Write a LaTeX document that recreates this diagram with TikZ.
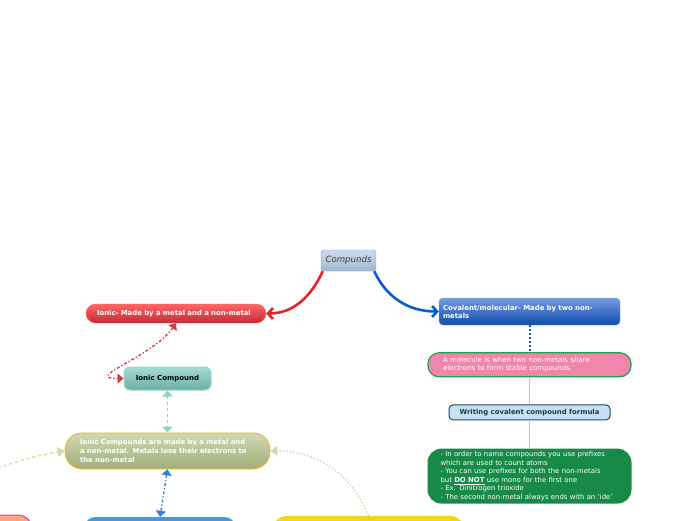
\documentclass[tikz,border=0pt]{standalone}
\usepackage{fontspec}
\setmainfont{DejaVu Sans}
\usetikzlibrary{positioning,arrows.meta}

\definecolor{compblue}{HTML}{B4CDE4}
\definecolor{compedge}{HTML}{6CA0D0}
\definecolor{ionicred}{HTML}{D8303C}
\definecolor{covblue}{HTML}{1558CC}
\definecolor{molpink}{HTML}{F285AB}
\definecolor{molgreen}{HTML}{22A050}
\definecolor{formblue}{HTML}{C8E0F2}
\definecolor{formedge}{HTML}{1E4B5A}
\definecolor{namegreen}{HTML}{178A48}
\definecolor{teal}{HTML}{7ECDC0}
\definecolor{olive}{HTML}{B2C086}
\definecolor{oliveline}{HTML}{D2DCA8}
\definecolor{linkred}{HTML}{E8202A}
\definecolor{linkblue}{HTML}{0A5AD2}
\definecolor{stemblue}{HTML}{A8C8EC}

\tikzset{
  topic/.style={rectangle, inner ysep=0pt, font=\fontsize{6.9}{8.6}\selectfont, align=left},
  main/.style={line width=2.6pt, -{Straight Barb[length=5pt,width=11pt]}},
  twoway/.style={line width=1.3pt, {Triangle[length=6pt,width=10pt]}-{Triangle[length=6pt,width=10pt]}},
}

\begin{document}
\begin{tikzpicture}[x=1pt,y=-1pt]
\useasboundingbox (0,0) rectangle (696,520);
\clip (0,0) rectangle (696,520);

\node (compounds)[topic, minimum width=55pt, minimum height=21pt, rounded corners=3pt,
  top color=compblue!70!white, bottom color=compblue!90!black, draw=compedge,
  text=black!75, font=\fontsize{8.6}{9}\selectfont\itshape, align=center] at (348.5,260.5) {Compunds};

\node (ionic)[topic, text width=158pt, inner xsep=11pt, minimum height=19pt, rounded corners=9.5pt,
  top color=red!60!white, bottom color=ionicred!90!black, draw=red!60, text=white,
  font=\fontsize{6.9}{8.6}\selectfont\bfseries] at (176,313.5) {Ionic- Made by a metal and a non-metal};

\node (covalent)[topic, text width=173pt, inner xsep=4pt, minimum height=27pt, rounded corners=4pt,
  top color=covblue!60!white, bottom color=covblue!85!black, draw=covblue!60!white, text=white,
  font=\fontsize{6.9}{8}\selectfont\bfseries] at (529.5,311.5) {Covalent/molecular- Made by two non-\\metals};

\node (molecule)[topic, below=27pt of covalent, text width=173pt, inner xsep=15pt, minimum height=24pt,
  rounded corners=11pt, fill=molpink, draw=molgreen, line width=1.2pt, text=white,
  font=\fontsize{7}{8}\selectfont] {A molecule is when two non-metals share\\electrons to form stable compounds.};

\node (formula)[topic, below=27pt of molecule, minimum width=161pt, minimum height=15pt, rounded corners=4pt,
  fill=formblue, draw=formedge, line width=1pt, text=formedge!80!black,
  font=\fontsize{6.9}{7}\selectfont\bfseries, align=center] {Writing covalent compound formula};

\node (naming)[topic, below=28pt of formula, text width=178pt, inner xsep=13pt, minimum height=55pt,
  rounded corners=14pt, fill=namegreen, text=white] {- In order to name compounds you use prefixes\\
  which are used to count atoms\\
  - You can use prefixes for both the non-metals\\
  but \textbf{\underline{DO NOT}} use mono for the first one\\
  - Ex. Dinitrogen trioxide\\
  - The second non-metal always ends with an 'ide'};

\node (icompound)[topic, minimum width=87pt, minimum height=23pt, rounded corners=6pt,
  top color=teal!70!white, bottom color=teal!85!black, draw=teal!80!white, line width=1pt,
  font=\fontsize{7}{7}\selectfont\bfseries, align=center] at (167.5,378.5) {Ionic Compound};

\node (icompounds)[topic, below=42pt of icompound, text width=175pt, inner xsep=15pt, minimum height=36pt,
  rounded corners=17pt, top color=olive!60!white, bottom color=olive!90!black, draw=orange!60!yellow,
  line width=0.8pt, text=white, font=\fontsize{6.9}{9}\selectfont\bfseries]
  {Ionic Compounds are made by a metal and\\a non-metal. Metals lose their electrons to\\the non-metal};

% nodes cut off by the lower edge
\node (pinkpart)[topic, minimum width=140pt, minimum height=40pt, rounded corners=14pt,
  fill=orange!60!red!50, draw=magenta!80, line width=1pt] at (-38,535) {};
\node (bluepart)[topic, minimum width=150pt, minimum height=40pt, rounded corners=10pt,
  fill=cyan!65!blue!75, draw=cyan!50] at (160,537) {};
\node (yellowpart)[topic, minimum width=193pt, minimum height=40pt, rounded corners=16pt,
  fill=yellow!80!orange!90!gray, draw=yellow!70!orange] at (368.5,536) {};
\coordinate (offleft) at (-2,468);

% draw the connections
\draw[main, linkred] ([xshift=2pt]compounds.south west) to[out=-115,in=0] (ionic.east);
\draw[main, linkblue] ([xshift=-2pt]compounds.south east) to[out=-65,in=180] (covalent.west);
\draw[line width=2pt, linkblue, dotted] (covalent) -- (molecule);
\draw[stemblue, line width=1.2pt] (molecule) -- (formula);
\draw[stemblue, line width=1.2pt] (formula) -- (naming);
\draw[twoway, red!70!black!75, dash dot] (ionic.south) to[out=-125,in=180,looseness=1.4] (icompound.west);
\draw[twoway, teal!90!white, dashed] (icompound) -- (icompounds);
\draw[twoway, linkblue!80!white, dash dot] (icompounds.south) -- (bluepart.north);
\draw[line width=1.5pt, oliveline, dashed, -{Triangle[length=7pt,width=10pt]}] (offleft) to[bend left=5] (icompounds.west);
\draw[line width=1.5pt, oliveline, dotted, -{Triangle[length=7pt,width=10pt]}] (yellowpart.north) to[out=112,in=0] (icompounds.east);
\end{tikzpicture}
\end{document}
